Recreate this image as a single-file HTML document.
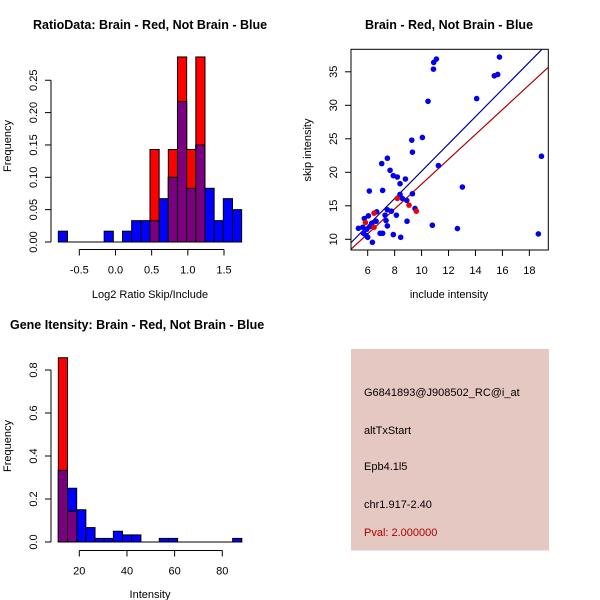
<!DOCTYPE html>
<html><head><meta charset="utf-8"><style>
body{margin:0;background:#fff}
svg{display:block;font-family:"Liberation Sans",sans-serif}
</style></head><body>
<svg id="c" width="600" height="600" xmlns="http://www.w3.org/2000/svg"></svg>
<script>
// Plot 1: ratio histogram
const ratioStart = -0.79, ratioWidth = 0.1267;
const ratioBlue = [0.0167,0,0,0,0,0.0167,0,0.0167,0.033,0.033,0.033,0.067,0.1,0.217,0.083,0.15,0.083,0.033,0.067,0.05];
const ratioRed  = [0,0,0,0,0,0,0,0,0,0,0.143,0,0.143,0.286,0.143,0.286,0,0,0,0];
const ratioYTicks = [0,0.05,0.10,0.15,0.20,0.25];
const ratioYLabels = ["0.00","0.05","0.10","0.15","0.20","0.25"];
const ratioXTicks = [-0.5,0,0.5,1,1.5];
const ratioXLabels = ["-0.5","0.0","0.5","1.0","1.5"];
// Plot 2: scatter
const blueX = [5.31,5.63,5.75,6.05,6.12,5.68,5.88,6.0,5.93,6.17,6.3,6.35,6.62,6.67,7.04,7.11,6.92,7.11,7.29,7.36,7.46,7.46,7.46,7.66,7.76,7.9,7.9,8.2,8.13,8.4,8.4,8.45,8.57,8.8,8.9,8.92,9.27,9.32,9.32,9.51,10.06,10.48,10.8,10.88,10.9,11.1,11.25,12.66,13.03,14.09,15.4,15.65,15.78,18.67,18.9];
const blueY = [11.64,11.8,13.1,13.5,17.2,10.9,10.6,10.3,11.5,11.9,12.4,9.55,12.7,14.1,21.3,17.3,10.9,10.9,13.6,12.8,22.1,12.0,14.4,20.3,14.2,19.5,10.7,19.3,13.6,18.3,16.7,10.3,16.1,19.0,15.8,12.7,24.8,23.0,16.8,14.6,25.2,30.6,12.1,35.4,36.4,36.9,21.0,11.6,17.8,31.0,34.4,34.6,37.2,10.8,22.4];
const redX = [5.83,6.47,6.47,8.2,9.07,9.61];
const redY = [12.5,13.9,11.8,16.1,15.1,14.2];
const blueFit = [-0.2,2.036];
const redFit = [-0.31,1.854];
const scXTicks = [6,8,10,12,14,16,18];
const scYTicks = [10,15,20,25,30,35];
// Plot 3: intensity histogram
const intStart = 11.2, intWidth = 3.85;
const intBlue = [0.333,0.25,0.15,0.067,0.0167,0.0167,0.05,0.033,0.033,0,0,0.0167,0.0167,0,0,0,0,0,0,0.0167];
const intRed  = [0.857,0.143,0,0,0,0,0,0,0,0,0,0,0,0,0,0,0,0,0,0];
const intYTicks = [0,0.2,0.4,0.6,0.8];
const intYLabels = ["0.0","0.2","0.4","0.6","0.8"];
const intXTicks = [20,40,60,80];

const svg=document.getElementById('c');
const NS="http://www.w3.org/2000/svg";
function mk(tag,at,txt){const e=document.createElementNS(NS,tag);for(const k in at)e.setAttribute(k,at[k]);if(txt!==undefined)e.textContent=txt;svg.appendChild(e);return e;}

function hist(opts){
  const {start,width,blue,red,xs,ys,yTicks,yLabels,xTicks,xLabels,axY,yAxX,pre}=opts;
  for(let i=0;i<blue.length;i++){
    const x0=xs(start+i*width),x1=xs(start+(i+1)*width);
    const b=blue[i],r=red[i];
    if(b>0){const e=mk('rect',{x:x0,y:ys(b),width:x1-x0,height:ys(0)-ys(b),fill:'#0000ff',stroke:'#000','stroke-width':1});
      }
    if(r>0){const e=mk('rect',{x:x0,y:ys(r),width:x1-x0,height:ys(0)-ys(r),fill:'#ff0000',stroke:'#000','stroke-width':1});
      
      const m=Math.min(b,r);
      if(m>0){const p=mk('rect',{x:x0,y:ys(m),width:x1-x0,height:ys(0)-ys(m),fill:'#7a0080',stroke:'#000','stroke-width':1});
        }}
  }
  const lx0=xs(start),lx1=xs(start+width*blue.length);
  mk('line',{x1:lx0,x2:lx1,y1:ys(0),y2:ys(0),stroke:'#000'});
  const ya=mk('line',{x1:yAxX,x2:yAxX,y1:ys(yTicks[0]),y2:ys(yTicks[yTicks.length-1]),stroke:'#000'});
  
  yTicks.forEach((v,i)=>{const y=ys(v);mk('line',{x1:yAxX-6,x2:yAxX,y1:y,y2:y,stroke:'#000'});
    const t=mk('text',{x:0,y:0,transform:`translate(${yAxX-14},${y}) rotate(-90)`,'text-anchor':'middle','font-size':11},yLabels[i]);
    });
  const xa=mk('line',{x1:xs(xTicks[0]),x2:xs(xTicks[xTicks.length-1]),y1:axY,y2:axY,stroke:'#000'});
  
  xTicks.forEach((v,i)=>{const x=xs(v);mk('line',{x1:x,x2:x,y1:axY,y2:axY+6,stroke:'#000'});
    const t=mk('text',{x:x,y:axY+24,'text-anchor':'middle','font-size':11},xLabels[i]);
    });
}

// plot 1
const xs1=v=>79.3+(v+0.5)*72.35, ys1=v=>242-v*647;
hist({start:ratioStart,width:ratioWidth,blue:ratioBlue,red:ratioRed,xs:xs1,ys:ys1,yTicks:ratioYTicks,yLabels:ratioYLabels,xTicks:ratioXTicks,xLabels:ratioXLabels,axY:249.5,yAxX:51,pre:'ratio'});
let t;
t=mk('text',{x:33,y:29,'font-size':12.5,'font-weight':'bold'},'RatioData: Brain - Red, Not Brain - Blue');
t=mk('text',{x:150,y:298,'text-anchor':'middle','font-size':11},'Log2 Ratio Skip/Include');
t=mk('text',{transform:'translate(11,146) rotate(-90)','text-anchor':'middle','font-size':11},'Frequency');

// plot 2
const xs2=v=>367.7+(v-6)*13.47, ys2=v=>239.3-(v-10)*6.7;
const cp=mk('clipPath',{id:'cp'});const cr=document.createElementNS(NS,'rect');cr.setAttribute('x',351);cr.setAttribute('y',49.3);cr.setAttribute('width',197.3);cr.setAttribute('height',200.7);cp.appendChild(cr);
function fitLine(f,col,name){const e=mk('line',{x1:xs2(4),y1:ys2(f[0]+f[1]*4),x2:xs2(21),y2:ys2(f[0]+f[1]*21),stroke:col,'stroke-width':1.2,'clip-path':'url(#cp)'});
  }
fitLine(blueFit,'#00008b','blue-fit-line');fitLine(redFit,'#b00000','red-fit-line');
blueX.forEach((x,i)=>{const e=mk('circle',{cx:xs2(x),cy:ys2(blueY[i]),r:2.8,fill:'#0000ee'});});
redX.forEach((x,i)=>{const e=mk('circle',{cx:xs2(x),cy:ys2(redY[i]),r:2.8,fill:'#ee0000'});});
t=mk('rect',{x:351,y:49.3,width:197.3,height:200.7,fill:'none',stroke:'#000'});
scXTicks.forEach(v=>{const x=xs2(v);mk('line',{x1:x,x2:x,y1:250,y2:256,stroke:'#000'});
  const e=mk('text',{x:x,y:274,'text-anchor':'middle','font-size':11},String(v));});
scYTicks.forEach(v=>{const y=ys2(v);mk('line',{x1:345,x2:351,y1:y,y2:y,stroke:'#000'});
  const e=mk('text',{transform:`translate(337,${y}) rotate(-90)`,'text-anchor':'middle','font-size':11},String(v));});
t=mk('text',{x:449,y:29,'text-anchor':'middle','font-size':12.5,'font-weight':'bold'},'Brain - Red, Not Brain - Blue');
t=mk('text',{x:449,y:298,'text-anchor':'middle','font-size':11},'include intensity');
t=mk('text',{transform:'translate(311,150) rotate(-90)','text-anchor':'middle','font-size':11},'skip intensity');

// plot 3
const xs3=v=>79.3+(v-20)*2.383, ys3=v=>542-v*215;
hist({start:intStart,width:intWidth,blue:intBlue,red:intRed,xs:xs3,ys:ys3,yTicks:intYTicks,yLabels:intYLabels,xTicks:intXTicks,xLabels:intXTicks.map(String),axY:550.5,yAxX:51,pre:'intensity'});
t=mk('text',{x:10,y:329,'font-size':12.5,'font-weight':'bold'},'Gene Itensity: Brain - Red, Not Brain - Blue');
t=mk('text',{x:150,y:598,'text-anchor':'middle','font-size':11},'Intensity');
t=mk('text',{transform:'translate(11,446) rotate(-90)','text-anchor':'middle','font-size':11},'Frequency');

// info panel
t=mk('rect',{x:351,y:349,width:198,height:201.5,fill:'#e6c8c2'});
const info=[['G6841893@J908502_RC@i_at',396,'#000','probe-id-text'],['altTxStart',434,'#000','event-type-text'],['Epb4.1l5',470,'#000','gene-name-text'],['chr1.917-2.40',508,'#000','location-text'],['Pval: 2.000000',536,'#aa0000','pval-text']];
info.forEach(r=>{const e=mk('text',{x:364,y:r[1],'font-size':11,fill:r[2]},r[0]);});
</script>
</body></html>
